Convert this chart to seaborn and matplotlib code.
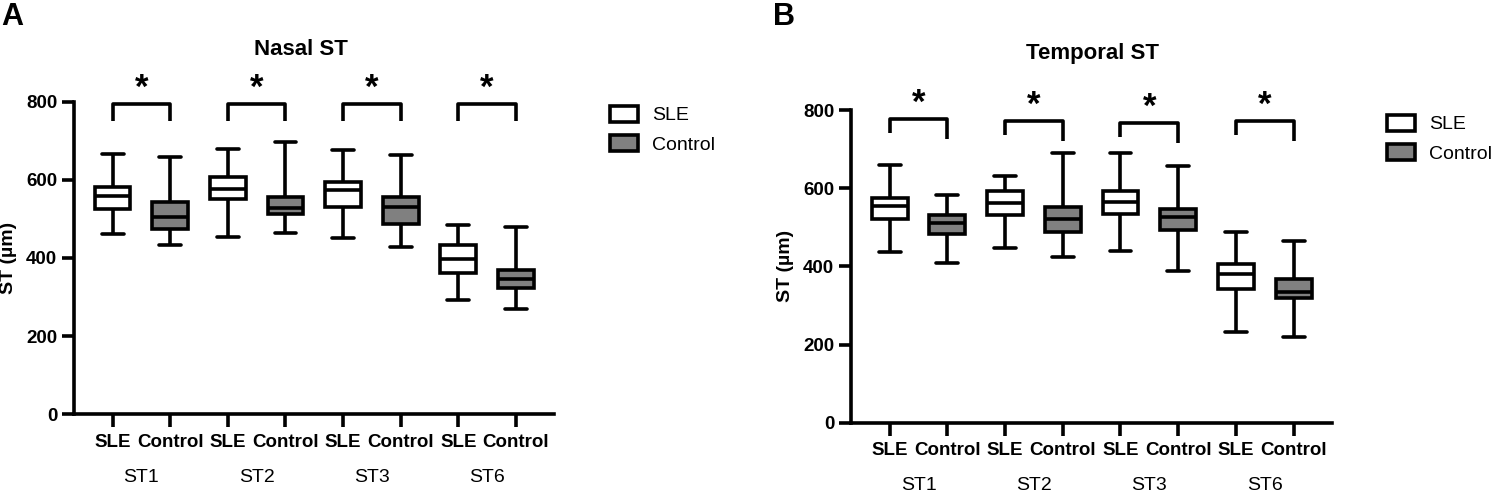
import numpy as np
import pandas as pd
import seaborn as sns
import matplotlib.pyplot as plt

# five-number summaries: [min, Q1, median, Q3, max]
regions = ["ST1", "ST2", "ST3", "ST6"]
groups = ["SLE", "Control"]

nasal_sle = [[462, 525, 559, 582, 665],
             [454, 550, 577, 607, 678],
             [451, 531, 573, 595, 677],
             [293, 362, 397, 432, 485]]
nasal_ctrl = [[433, 474, 506, 544, 659],
              [465, 512, 528, 556, 697],
              [428, 486, 531, 555, 664],
              [270, 323, 346, 369, 480]]

temporal_sle = [[437, 522, 554, 575, 660],
                [448, 531, 563, 594, 632],
                [440, 534, 565, 594, 690],
                [233, 343, 380, 406, 488]]
temporal_ctrl = [[409, 482, 512, 531, 583],
                 [423, 488, 520, 553, 691],
                 [388, 493, 527, 546, 657],
                 [218, 318, 334, 368, 466]]

# significance brackets (y values)
nasal_br_top = [795, 795, 795, 793]
nasal_br_left = [751, 751, 751, 751]
nasal_br_right = [751, 751, 751, 751]
temporal_br_top = [778, 773, 767, 773]
temporal_br_left = [742, 735, 730, 735]
temporal_br_right = [727, 721, 716, 721]

yticks = [0, 200, 400, 600, 800]
palette = {"SLE": "white", "Control": "#808080"}
LW = 2.6


def long_df(sle, ctrl):
    rows = []
    for r, vals in zip(regions, sle):
        for v in vals:
            rows.append({"region": r, "group": "SLE", "ST": v})
    for r, vals in zip(regions, ctrl):
        for v in vals:
            rows.append({"region": r, "group": "Control", "ST": v})
    return pd.DataFrame(rows)


sns.set_style("ticks")
plt.rcParams["font.family"] = ["Liberation Sans", "DejaVu Sans"]
plt.rcParams["text.color"] = "black"
plt.rcParams["axes.labelcolor"] = "black"
plt.rcParams["xtick.color"] = "black"
plt.rcParams["ytick.color"] = "black"

fig = plt.figure(figsize=(14.91, 4.93), dpi=100)
axA = fig.add_axes([74 / 1491, 78.7 / 493, 480 / 1491, 312.6 / 493])
axB = fig.add_axes([851 / 1491, 70.3 / 493, 480.7 / 1491, 312.7 / 493])


def draw(ax, sle, ctrl, br_top, br_left, br_right, leg_anchor):
    df = long_df(sle, ctrl)
    sns.boxplot(data=df, x="region", y="ST", hue="group", order=regions,
                hue_order=groups, palette=palette, linecolor="black",
                linewidth=LW, whis=(0, 100), width=1.0, gap=0.38,
                fliersize=0, capwidths=0.19, ax=ax)
    ax.set_ylim(0, 800)
    ax.set_xlim(-0.585, 3.58)
    ax.set_yticks(yticks)
    ax.set_yticklabels([str(t) for t in yticks], fontsize=13.5, fontweight="bold")
    ticks = []
    labels = []
    for i in range(len(regions)):
        ticks += [i - 0.25, i + 0.25]
        labels += groups
    ax.set_xticks(ticks)
    ax.set_xticklabels(labels, fontsize=13.5, fontweight="bold")
    ax.set_xlabel("")
    ax.set_ylabel("ST (µm)", fontsize=14, fontweight="bold")
    ax.yaxis.set_label_coords(-0.118, 0.5)
    for s in ["top", "right"]:
        ax.spines[s].set_visible(False)
    for s in ["left", "bottom"]:
        ax.spines[s].set_linewidth(LW)
        ax.spines[s].set_color("black")
    ax.tick_params(width=LW, length=9, color="black", labelcolor="black")
    ax.tick_params(axis="x", pad=5)
    ax.tick_params(axis="y", pad=3)

    for i, r in enumerate(regions):
        ax.text(i, -0.215, r, transform=ax.get_xaxis_transform(),
                ha="center", va="baseline", fontsize=14, color="black")
        ax.plot([i - 0.25, i - 0.25, i + 0.25, i + 0.25],
                [br_left[i], br_top[i], br_top[i], br_right[i]],
                color="black", lw=LW, clip_on=False, solid_capstyle="butt")
        ax.text(i, br_top[i] + 40, "*", ha="center", va="center",
                fontsize=25, fontweight="bold", clip_on=False, color="black")

    handles, labs = ax.get_legend_handles_labels()
    ax.legend(handles, labs, loc="upper left", bbox_to_anchor=leg_anchor,
              bbox_transform=fig.transFigure, frameon=False, fontsize=14,
              handlelength=1.45, handleheight=0.85, handletextpad=0.7,
              labelspacing=0.55, borderpad=0, borderaxespad=0,
              labelcolor="black")


draw(axA, nasal_sle, nasal_ctrl, nasal_br_top, nasal_br_left, nasal_br_right,
     (610 / 1491, 1 - 106 / 493))
draw(axB, temporal_sle, temporal_ctrl, temporal_br_top, temporal_br_left,
     temporal_br_right, (1387 / 1491, 1 - 115 / 493))

fig.text(301 / 1491, 1 - 55 / 493, "Nasal ST", ha="center", va="baseline",
         fontsize=16, fontweight="bold", color="black")
fig.text(1092 / 1491, 1 - 59 / 493, "Temporal ST", ha="center", va="baseline",
         fontsize=16, fontweight="bold", color="black")
fig.text(1 / 1491, 1 - 25 / 493, "A", ha="left", va="baseline",
         fontsize=22, fontweight="bold", color="black")
fig.text(773 / 1491, 1 - 25 / 493, "B", ha="left", va="baseline",
         fontsize=22, fontweight="bold", color="black")

fig.savefig("out.png", dpi=100)
